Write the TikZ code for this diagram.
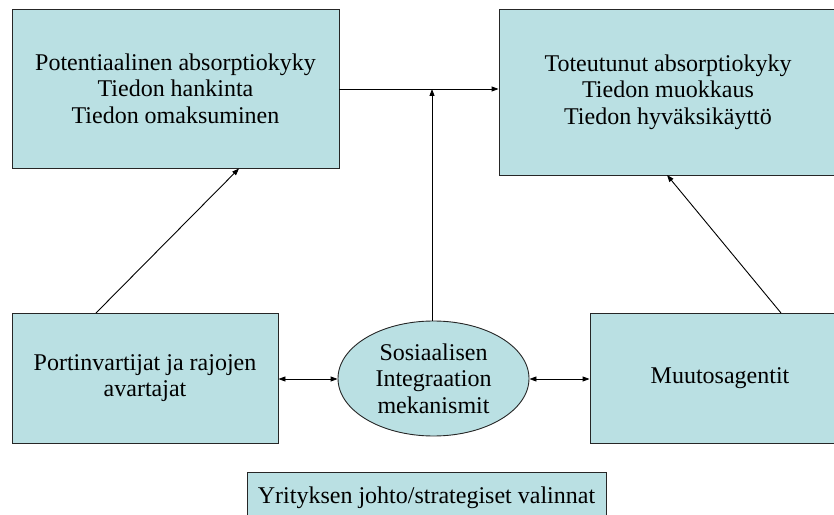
\documentclass[tikz,border=0pt]{standalone}
\usepackage{fontspec}
\setmainfont{Liberation Serif}
\newfontfamily\boxfont{Liberation Serif}
\usetikzlibrary{arrows.meta,shapes.geometric}
\definecolor{boxfill}{RGB}{186,224,227}
\begin{document}
\begin{tikzpicture}[x=1pt,y=1pt,
  box/.style={draw=black!85,line width=0.9pt,fill=boxfill,align=center,
    font=\boxfont\fontsize{24}{26.5}\selectfont,inner sep=0pt},
  link/.style={draw=black,line width=0.9pt,-{Triangle[length=7pt,width=5pt]}},
  twoway/.style={draw=black,line width=0.9pt,{Triangle[length=7pt,width=5pt]}-{Triangle[length=7pt,width=5pt]}}]
\useasboundingbox (0,0) rectangle (834,514);
\clip (0,0) rectangle (834,514);
% capacity boxes
\node[box,minimum width=327pt,minimum height=159pt] (pot) at (175.5,425.5)
  {Potentiaalinen absorptiokyky\\Tiedon hankinta\\Tiedon omaksuminen};
\node[box,minimum width=338pt,minimum height=166pt] (tot) at (668,422)
  {Toteutunut absorptiokyky\\Tiedon muokkaus\\Tiedon hyväksikäyttö};
% actor boxes
\node[box,minimum width=266pt,minimum height=130pt] (port) at (145,136)
  {Portinvartijat ja rajojen\\avartajat};
\node[box,minimum width=260pt,minimum height=130pt] (muut) at (720,136)
  {Muutosagentit};
\node[box,ellipse,minimum width=191pt,minimum height=115pt] (sos) at (433.5,135.5)
  {Sosiaalisen\\Integraation\\mekanismit};
% management box
\node[box,minimum width=359pt,minimum height=52pt] (joh) at (426.5,16)
  {Yrityksen johto/strategiset valinnat};
% connectors
\draw[link] (pot.east |- 0,425) -- (tot.west |- 0,425);
\coordinate (join) at (432,425);
\draw[link] (sos.north -| join) -- (join);
\draw[link] (96,201) -- (239,345.5);
\draw[link] (781,201) -- (667,339);
\draw[twoway] (port.east |- 0,135) -- (sos.west |- 0,135);
\draw[twoway] (sos.east |- 0,135) -- (muut.west |- 0,135);
\end{tikzpicture}
\end{document}
